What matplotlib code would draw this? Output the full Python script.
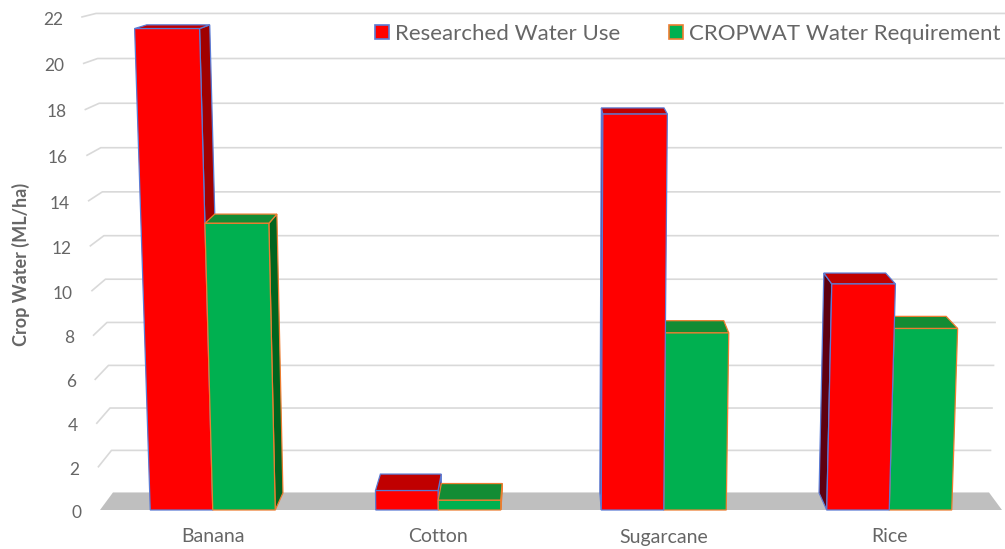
import numpy as np
import matplotlib.pyplot as plt
from matplotlib.patches import Polygon
from matplotlib.lines import Line2D

plt.rcParams['font.family'] = 'Lato'

crops = ['Banana', 'Cotton', 'Sugarcane', 'Rice']
researched = [21.5, 0.9, 17.8, 10.3]
cropwat = [13.0, 0.45, 8.1, 8.3]
series_names = ['Researched Water Use', 'CROPWAT Water Requirement']
y_ticks = list(range(0, 23, 2))

# series colours: front, top, right side, left side, outline
red_faces = dict(front='#FF0000', top='#C00000', right='#A00000', left='#5E0010', edge='#5B7BD5')
green_faces = dict(front='#00B050', top='#138C34', right='#00641E', left='#004A1A', edge='#ED7D31')

# simple pinhole camera, looking slightly down on the chart box
F = 2130.0
TILT = np.arctan(360.0 / F)
S, C = np.sin(TILT), np.cos(TILT)
D0, U0 = 2130.0, -250.0
CX, CY = 551.0, 260.0

SLOT = 225.5        # width of one category
BAR_W = 62.5        # width of one bar
VU = 22.3           # world height of one ML/ha
BAR_D = 62.0        # depth of the bars
WALL_D = 64.0       # depth of the floor / back wall
HALF = 2 * SLOT     # half width of the floor


def project(x, y, z):
    x, y, z = np.broadcast_arrays(np.asarray(x, float), np.asarray(y, float), np.asarray(z, float))
    depth = D0 - y * S + z * C
    up = U0 + y * C + z * S
    return CX + F * x / depth, CY - F * up / depth


def face(ax, pts, fc, ec, z):
    px, py = project(*np.array(pts).T)
    ax.add_patch(Polygon(np.column_stack([px, py]), closed=True, facecolor=fc,
                         edgecolor=ec, linewidth=0.9, zorder=z))


def bar3d(ax, x0, x1, value, col, z):
    h = value * VU
    d = BAR_D
    if x1 < 0:
        face(ax, [(x1, 0, 0), (x1, 0, d), (x1, h, d), (x1, h, 0)], col['right'], col['edge'], z)
    if x0 > 0:
        face(ax, [(x0, 0, 0), (x0, 0, d), (x0, h, d), (x0, h, 0)], col['left'], col['edge'], z)
    face(ax, [(x0, h, 0), (x1, h, 0), (x1, h, d), (x0, h, d)], col['top'], col['edge'], z)
    face(ax, [(x0, 0, 0), (x1, 0, 0), (x1, h, 0), (x0, h, 0)], col['front'], col['edge'], z)


fig = plt.figure(figsize=(10.05, 5.49), dpi=100)
ax = fig.add_axes([0, 0, 1, 1])
ax.set_xlim(0, 1005)
ax.set_ylim(549, 0)
ax.axis('off')

# floor
face(ax, [(-HALF, 0, 0), (HALF, 0, 0), (HALF, 0, WALL_D), (-HALF, 0, WALL_D)], '#BFBFBF', 'none', 1)

# gridlines on the back wall and the left wall, with tick labels
for v in y_ticks:
    y = v * VU
    if v > 0:
        gx, gy = project([-HALF, -HALF, HALF], [y, y, y], [0, WALL_D, WALL_D])
        ax.plot(gx, gy, color='#D9D9D9', lw=1.2, zorder=2)
    lx, ly = project(-HALF, y, 0)
    ax.text(lx - 19, ly + 3, str(v), ha='right', va='center', fontsize=12.5, color='#666666')

# bars, drawn from the outside towards the centre
bars = []
for i, crop in enumerate(crops):
    xc = (i - 1.5) * SLOT
    bars.append((xc - BAR_W, xc, researched[i], red_faces))
    bars.append((xc, xc + BAR_W, cropwat[i], green_faces))
bars.sort(key=lambda b: -abs((b[0] + b[1]) / 2))
for k, (x0, x1, v, col) in enumerate(bars):
    bar3d(ax, x0, x1, v, col, 3 + k * 0.01)

for i, crop in enumerate(crops):
    xc = (i - 1.5) * SLOT
    tx, ty = project(xc, 0, 0)
    ax.text(tx, ty + 27, crop, ha='center', va='center', fontsize=14, color='#666666')

ax.text(21, 264, 'Crop Water (ML/ha)', rotation=90, ha='center', va='center',
        fontsize=13, fontweight='bold', color='#666666')

handles = [Line2D([], [], ls='', marker='s', markersize=10, markerfacecolor=red_faces['front'],
                  markeredgecolor=red_faces['edge'], markeredgewidth=1.2),
           Line2D([], [], ls='', marker='s', markersize=10, markerfacecolor=green_faces['front'],
                  markeredgecolor=green_faces['edge'], markeredgewidth=1.2)]
leg = ax.legend(handles, series_names, loc='upper left', bbox_to_anchor=(354 / 1005, 1 - 5 / 549),
                bbox_transform=fig.transFigure, ncol=2, fontsize=16, frameon=True,
                facecolor='white', edgecolor='none', fancybox=False, borderpad=0.35,
                handlelength=0.8, handletextpad=0.2, columnspacing=2.1, labelcolor='#666666')
leg.get_frame().set_alpha(1)

fig.savefig('out.png', dpi=100)
